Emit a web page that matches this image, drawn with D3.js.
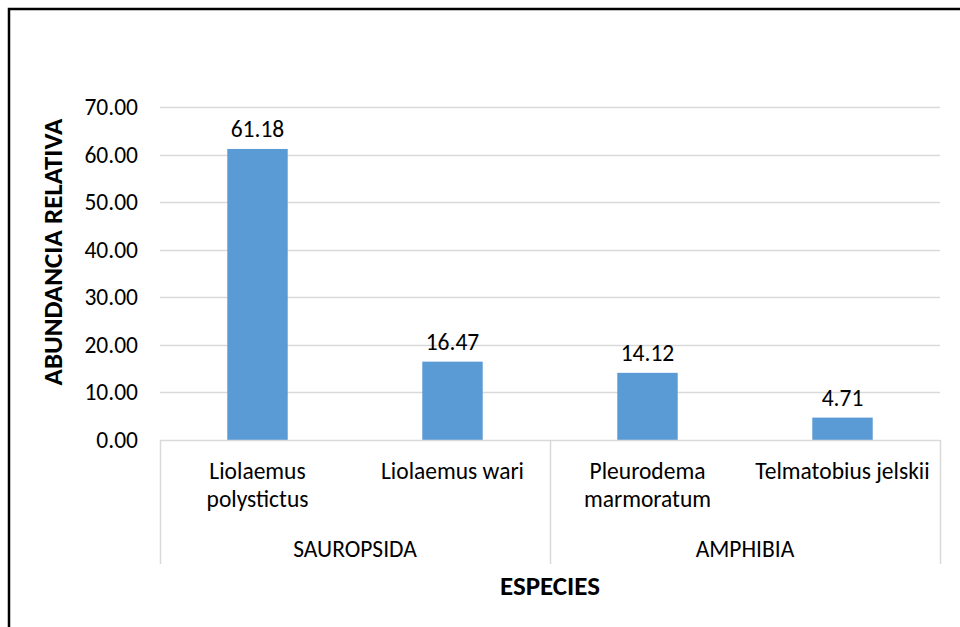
<!DOCTYPE html>
<html>
<head>
<meta charset="utf-8">
<script src="https://cdn.jsdelivr.net/npm/d3@7"></script>
<style>
  body { margin: 0; background: #fff; }
  svg { display: block; font-family: Carlito, Calibri, Lato, sans-serif; }
</style>
</head>
<body>
<script>
// datos del gráfico
var especies = [["Liolaemus", "polystictus"], ["Liolaemus wari"], ["Pleurodema", "marmoratum"], ["Telmatobius jelskii"]];
var clases = ["SAUROPSIDA", "AMPHIBIA"];
var valores = [61.18, 16.47, 14.12, 4.71];
var ticks = [0, 10, 20, 30, 40, 50, 60, 70];

var width = 960, height = 627;
var margin = { left: 160, right: 20, top: 107, bottom: 187 };
var fs = 23.5, fsBold = 27;

var svg = d3.select("body").append("svg")
  .attr("width", width)
  .attr("height", height);

// marco exterior
svg.append("rect")
  .attr("x", 9).attr("y", 9)
  .attr("width", 960).attr("height", 640)
  .attr("fill", "none")
  .attr("stroke", "#000")
  .attr("stroke-width", 2.5);

var x = d3.scaleBand()
  .domain(d3.range(valores.length))
  .range([margin.left, width - margin.right])
  .paddingInner(0.69)
  .paddingOuter(0.345);

var y = d3.scaleLinear()
  .domain([0, 70])
  .range([height - margin.bottom, margin.top]);

// lineas de cuadricula
svg.append("g")
  .selectAll("line")
  .data(ticks.slice(1))
  .enter().append("line")
  .attr("x1", margin.left).attr("x2", width - margin.right)
  .attr("y1", function(d) { return Math.round(y(d)) + 0.5; })
  .attr("y2", function(d) { return Math.round(y(d)) + 0.5; })
  .attr("stroke", "#d9d9d9")
  .attr("stroke-width", 1.5);

// eje Y
var yAxis = svg.append("g")
  .attr("transform", "translate(" + margin.left + ",0)")
  .call(d3.axisLeft(y).tickValues(ticks).tickSize(0).tickPadding(22).tickFormat(d3.format(".2f")))
  .attr("font-family", null)
  .attr("font-size", fs);
yAxis.select(".domain").remove();
yAxis.selectAll("text").attr("fill", "#000");

// barras
svg.append("g")
  .selectAll("rect")
  .data(valores)
  .enter().append("rect")
  .attr("x", function(d, i) { return x(i); })
  .attr("width", x.bandwidth())
  .attr("y", function(d) { return y(d); })
  .attr("height", function(d) { return y(0) - y(d); })
  .attr("fill", "#5b9bd5");

// etiquetas de valores
svg.append("g")
  .selectAll("text")
  .data(valores)
  .enter().append("text")
  .attr("x", function(d, i) { return x(i) + x.bandwidth() / 2; })
  .attr("y", function(d) { return y(d) - 12; })
  .attr("text-anchor", "middle")
  .attr("font-size", fs)
  .text(function(d) { return d3.format(".2f")(d); });

// eje de categorias con dos niveles
var base = y(0);
var ancho = (width - margin.right - margin.left) / valores.length;
svg.append("line")
  .attr("x1", margin.left).attr("x2", width - margin.right)
  .attr("y1", base + 0.5).attr("y2", base + 0.5)
  .attr("stroke", "#d9d9d9").attr("stroke-width", 1.5);

var separadores = [0, 2, 4];
svg.append("g")
  .selectAll("line")
  .data(separadores)
  .enter().append("line")
  .attr("x1", function(d) { return Math.round(margin.left + d * ancho) + 0.5; })
  .attr("x2", function(d) { return Math.round(margin.left + d * ancho) + 0.5; })
  .attr("y1", base).attr("y2", 564)
  .attr("stroke", "#d9d9d9").attr("stroke-width", 1.5);

var etiquetas = svg.append("g")
  .selectAll("text")
  .data(especies)
  .enter().append("text")
  .attr("x", function(d, i) { return x(i) + x.bandwidth() / 2; })
  .attr("y", 479)
  .attr("text-anchor", "middle")
  .attr("font-size", fs);
etiquetas.selectAll("tspan")
  .data(function(d) { return d; })
  .enter().append("tspan")
  .attr("x", function() { return d3.select(this.parentNode).attr("x"); })
  .attr("dy", function(d, j) { return j === 0 ? 0 : 28; })
  .text(function(d) { return d; });

svg.append("g")
  .selectAll("text")
  .data(clases)
  .enter().append("text")
  .attr("x", function(d, i) { return margin.left + (i * 2 + 1) * ancho; })
  .attr("y", 557)
  .attr("text-anchor", "middle")
  .attr("font-size", fs)
  .text(function(d) { return d; });

// titulos de ejes
svg.append("text")
  .attr("x", (margin.left + width - margin.right) / 2)
  .attr("y", 595)
  .attr("text-anchor", "middle")
  .attr("font-size", fsBold)
  .attr("font-weight", "bold")
  .text("ESPECIES");

svg.append("text")
  .attr("transform", "translate(62,252) rotate(-90)")
  .attr("text-anchor", "middle")
  .attr("font-size", fsBold)
  .attr("font-weight", "bold")
  .text("ABUNDANCIA RELATIVA");
</script>
</body>
</html>
